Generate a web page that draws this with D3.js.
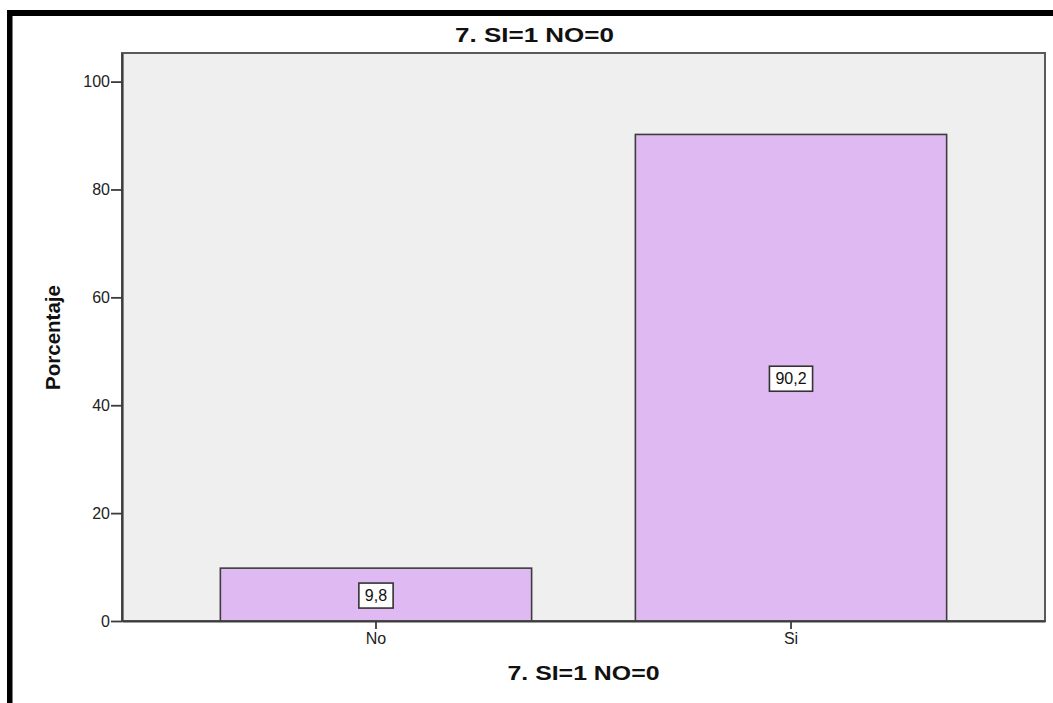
<!DOCTYPE html>
<html>
<head>
<meta charset="utf-8">
<script src="https://cdn.jsdelivr.net/npm/d3@7"></script>
<style>
  html, body { margin: 0; padding: 0; background: #fff; }
  svg { display: block; font-family: "Liberation Sans", Arial, sans-serif; }
</style>
</head>
<body>
<svg id="chart" width="1053" height="703"></svg>
<script>
// Chart data
const categories = ["No", "Si"];
const percentages = [9.8, 90.2];
const valueLabels = ["9,8", "90,2"];
const yTicks = [0, 20, 40, 60, 80, 100];
const chartTitle = "7. SI=1 NO=0";
const xAxisTitle = "7. SI=1 NO=0";
const yAxisTitle = "Porcentaje";

const svg = d3.select("#chart");

// Plot frame bounds
const plot = { left: 122, right: 1045, top: 53, bottom: 621 };

const x = d3.scaleBand()
  .domain(categories)
  .range([plot.left, plot.right])
  .paddingInner(0.25)
  .paddingOuter(0.237);

const y = d3.scaleLinear()
  .domain([0, 105.3])
  .range([plot.bottom, plot.top]);

// Outer frame (top and left edges)
svg.append("rect").attr("x", 7).attr("y", 10).attr("width", 1046).attr("height", 6).attr("fill", "#000");
svg.append("rect").attr("x", 7).attr("y", 10).attr("width", 5.5).attr("height", 693).attr("fill", "#000");

// Plot background
svg.append("rect")
  .attr("x", plot.left).attr("y", plot.top)
  .attr("width", plot.right - plot.left).attr("height", plot.bottom - plot.top)
  .attr("fill", "#efefef")
  .attr("stroke", "#5a5a5a")
  .attr("stroke-width", 2);

// Bars
const data = categories.map((c, i) => ({ cat: c, value: percentages[i], label: valueLabels[i] }));

svg.append("g").selectAll("rect")
  .data(data)
  .join("rect")
  .attr("x", d => x(d.cat))
  .attr("y", d => y(d.value))
  .attr("width", x.bandwidth())
  .attr("height", d => y(0) - y(d.value))
  .attr("fill", "#dfb9f2")
  .attr("stroke", "#3c3c3c")
  .attr("stroke-width", 1.6);

// Value labels in boxes at bar centres
const labelG = svg.append("g").selectAll("g")
  .data(data)
  .join("g")
  .attr("transform", d => `translate(${x(d.cat) + x.bandwidth() / 2},${(y(d.value) + y(0)) / 2 + 1})`);

labelG.each(function(d) {
  const g = d3.select(this);
  const t = g.append("text")
    .attr("text-anchor", "middle")
    .attr("dy", "0.36em")
    .attr("font-size", 16)
    .attr("fill", "#111")
    .text(d.label);
  const w = t.node().getComputedTextLength() + 12;
  g.insert("rect", "text")
    .attr("x", -w / 2).attr("y", -12.5)
    .attr("width", w).attr("height", 25)
    .attr("fill", "#fff")
    .attr("stroke", "#333")
    .attr("stroke-width", 1.6);
});

// Y axis
const yAxis = svg.append("g")
  .attr("transform", `translate(${plot.left},0)`)
  .call(d3.axisLeft(y).tickValues(yTicks).tickSize(11).tickPadding(1).tickSizeOuter(0));
yAxis.select(".domain").attr("stroke", "#3c3c3c").attr("stroke-width", 2.2);
yAxis.selectAll(".tick line").attr("stroke", "#3c3c3c").attr("stroke-width", 1.8);
yAxis.selectAll(".tick text").attr("font-size", 16).attr("fill", "#222")
  .attr("font-family", "'Liberation Sans', Arial, sans-serif");

// X axis
const xAxis = svg.append("g")
  .attr("transform", `translate(0,${plot.bottom})`)
  .call(d3.axisBottom(x).tickSize(8).tickPadding(4).tickSizeOuter(0));
xAxis.select(".domain").attr("stroke", "#3c3c3c").attr("stroke-width", 2.2);
xAxis.selectAll(".tick line").attr("stroke", "#3c3c3c").attr("stroke-width", 1.8);
xAxis.selectAll(".tick text").attr("font-size", 16).attr("fill", "#222")
  .attr("font-family", "'Liberation Sans', Arial, sans-serif");

// Titles
svg.append("text")
  .attr("x", 534.5).attr("y", 42)
  .attr("text-anchor", "middle")
  .attr("font-size", 19.5).attr("font-weight", "bold").attr("fill", "#111")
  .attr("textLength", 159).attr("lengthAdjust", "spacingAndGlyphs")
  .text(chartTitle);

svg.append("text")
  .attr("x", (plot.left + plot.right) / 2).attr("y", 680)
  .attr("text-anchor", "middle")
  .attr("font-size", 19.5).attr("font-weight", "bold").attr("fill", "#111")
  .attr("textLength", 152).attr("lengthAdjust", "spacingAndGlyphs")
  .text(xAxisTitle);

svg.append("text")
  .attr("transform", `translate(60,337.5) rotate(-90)`)
  .attr("text-anchor", "middle")
  .attr("font-size", 21).attr("font-weight", "bold").attr("fill", "#111")
  .attr("textLength", 105).attr("lengthAdjust", "spacingAndGlyphs")
  .text(yAxisTitle);
</script>
</body>
</html>
